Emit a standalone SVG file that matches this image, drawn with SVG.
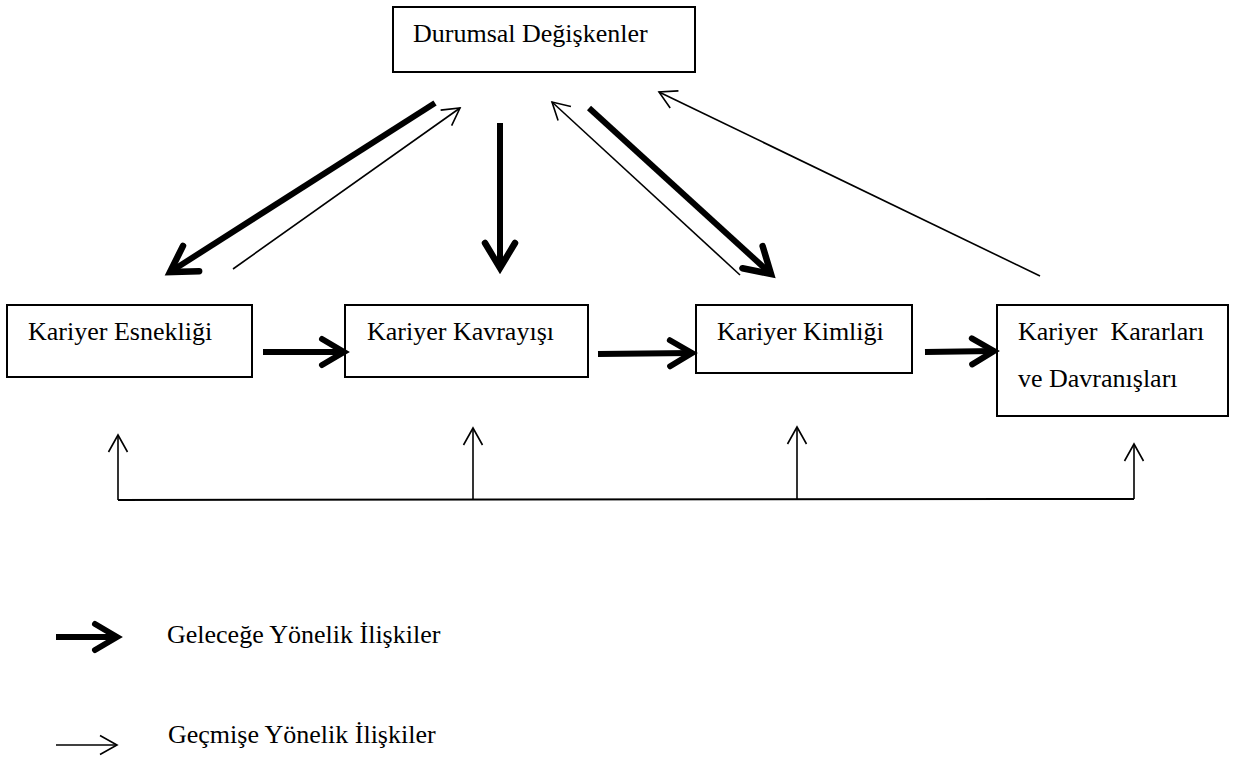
<svg xmlns="http://www.w3.org/2000/svg" width="1240" height="760" viewBox="0 0 1240 760">
<style>
.box{fill:#fff;stroke:#000;stroke-width:2}
.lbl{font-family:"Liberation Serif","Times New Roman",serif;font-size:26px;fill:#000}
.thick{fill:none;stroke:#000;stroke-width:6}
.thin{fill:none;stroke:#000;stroke-width:1.6}
</style>
<defs>
<marker id="hT" markerUnits="userSpaceOnUse" viewBox="-30 -20 40 40" refX="0" refY="0" markerWidth="40" markerHeight="40" orient="auto" overflow="visible">
<path d="M-22,-13 L0,0 L-22,13" fill="none" stroke="#000" stroke-width="6" stroke-linecap="round" stroke-linejoin="miter"/>
</marker>
<marker id="hTd" markerUnits="userSpaceOnUse" viewBox="-30 -20 40 40" refX="0" refY="0" markerWidth="40" markerHeight="40" orient="auto" overflow="visible">
<path d="M-25,-15 L0,0 L-25,15" fill="none" stroke="#000" stroke-width="6.5" stroke-linecap="round" stroke-linejoin="miter"/>
</marker>
<marker id="ht" markerUnits="userSpaceOnUse" viewBox="-20 -12 24 24" refX="0" refY="0" markerWidth="24" markerHeight="24" orient="auto" overflow="visible">
<path d="M-17,-9.5 L0,0 L-17,9.5" fill="none" stroke="#000" stroke-width="1.6"/>
</marker>
</defs>

<g id="node-durumsal">
<rect class="box" x="393" y="7" width="302" height="65"/>
<text class="lbl" x="413" y="42">Durumsal Değişkenler</text>
</g>
<g id="node-esneklik">
<rect class="box" x="7" y="305" width="245" height="72"/>
<text class="lbl" x="28" y="340">Kariyer Esnekliği</text>
</g>
<g id="node-kavrayis">
<rect class="box" x="345" y="305" width="243" height="72"/>
<text class="lbl" x="367" y="340">Kariyer Kavrayışı</text>
</g>
<g id="node-kimlik">
<rect class="box" x="696" y="305" width="216" height="68"/>
<text class="lbl" x="717" y="340">Kariyer Kimliği</text>
</g>
<g id="node-kararlar">
<rect class="box" x="997" y="305" width="231" height="111"/>
<text class="lbl" x="1018" y="340" xml:space="preserve">Kariyer  Kararları</text>
<text class="lbl" x="1018" y="387">ve Davranışları</text>
</g>

<g id="connectors">
<!-- top diagonal / vertical -->
<path class="thick" d="M435,103 L170,272" marker-end="url(#hTd)"/>
<path class="thin" d="M233,269 L460,108" marker-end="url(#ht)"/>
<path class="thick" d="M500,123 L500,268" marker-end="url(#hTd)"/>
<path class="thin" d="M740,275 L552,102" marker-end="url(#ht)"/>
<path class="thick" d="M589,108 L771,274" marker-end="url(#hTd)"/>
<path class="thin" d="M1040,276 L659,92" marker-end="url(#ht)"/>
<!-- horizontal forward -->
<path class="thick" d="M263,352 L344,352" marker-end="url(#hT)"/>
<path class="thick" d="M598,354 L692,353" marker-end="url(#hT)"/>
<path class="thick" d="M925,352 L994,351" marker-end="url(#hT)"/>
<!-- bottom feedback -->
<path class="thin" d="M118,500 L1134,499" style="stroke-width:2"/>
<path class="thin" d="M118,500 L118,435" marker-end="url(#ht)"/>
<path class="thin" d="M473,500 L473,428" marker-end="url(#ht)"/>
<path class="thin" d="M797,500 L797,427" marker-end="url(#ht)"/>
<path class="thin" d="M1134,499 L1134,444" marker-end="url(#ht)"/>
</g>

<g id="legend">
<path class="thick" d="M56,637 L117,637" marker-end="url(#hT)"/>
<text class="lbl" x="167" y="643">Geleceğe Yönelik İlişkiler</text>
<path class="thin" d="M56,745 L117,745" marker-end="url(#ht)"/>
<text class="lbl" x="168" y="743">Geçmişe Yönelik İlişkiler</text>
</g>
</svg>
